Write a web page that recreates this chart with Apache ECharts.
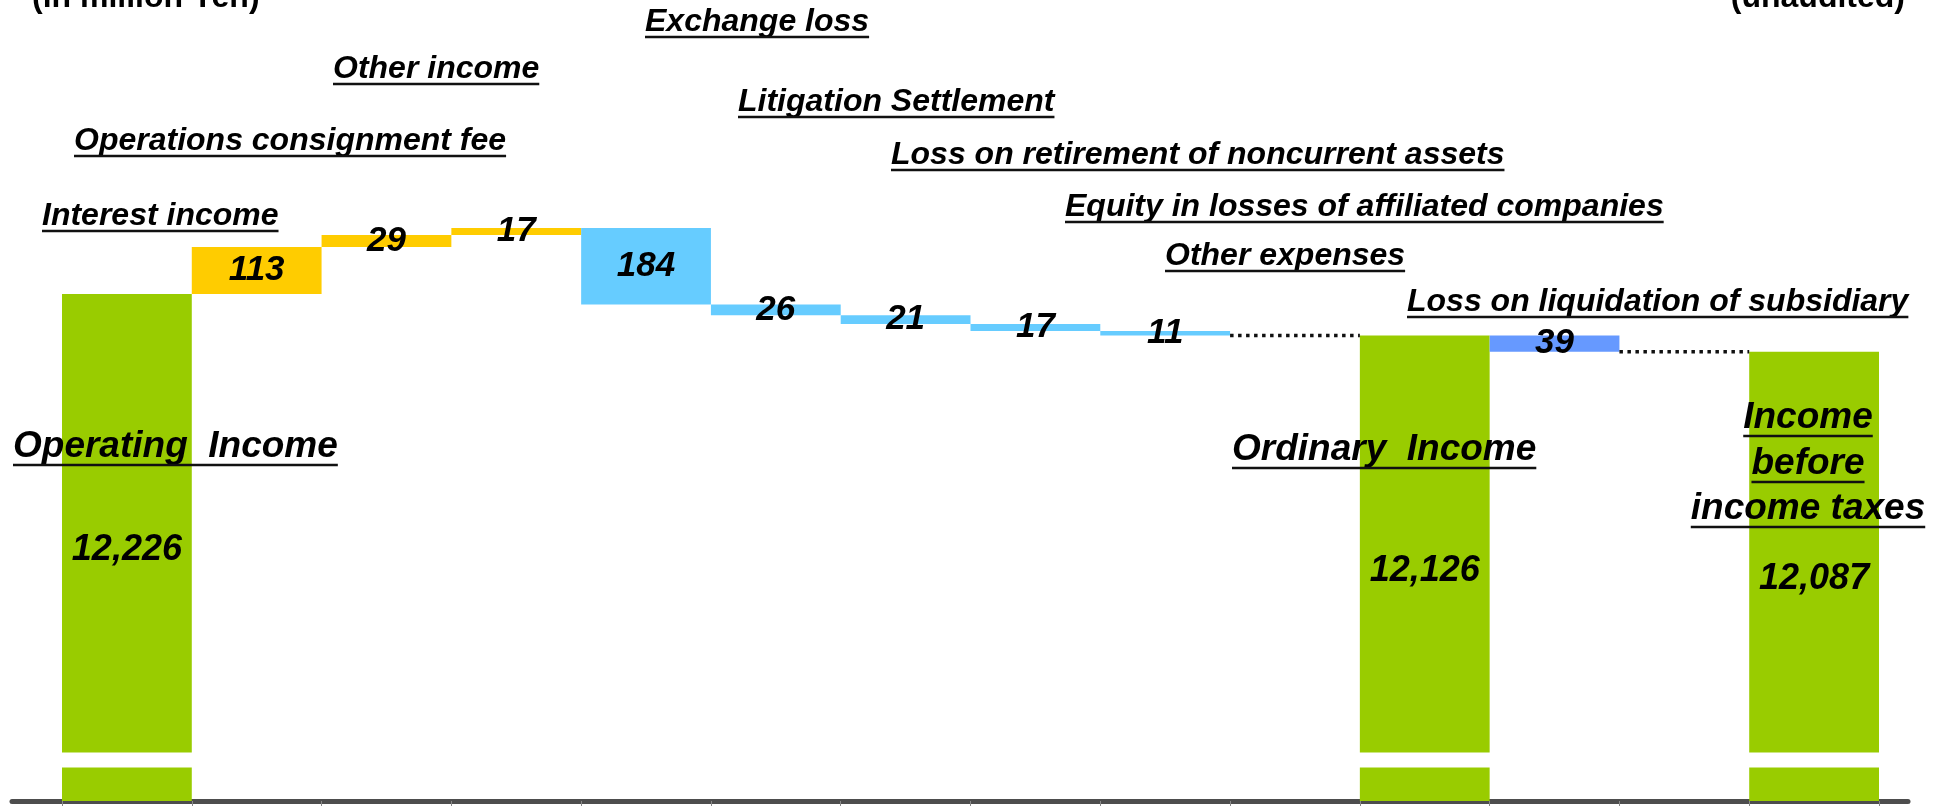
<!DOCTYPE html>
<html>
<head>
<meta charset="utf-8">
<title>Operating income to income before income taxes</title>
<script src="https://cdn.jsdelivr.net/npm/echarts@6.0.0/dist/echarts.min.js"></script>
<style>
  html, body { margin: 0; padding: 0; background: #fff; }
  #chart { width: 1946px; height: 806px; }
</style>
</head>
<body>
<div id="chart"></div>
<script>
  // one slot per step; '' marks an empty slot that only carries the dotted connector
  var categories = [
    'Operating  Income',
    'Interest income',
    'Operations consignment fee',
    'Other income',
    'Exchange loss',
    'Litigation Settlement',
    'Loss on retirement of noncurrent assets',
    'Equity in losses of affiliated companies',
    'Other expenses',
    '',
    'Ordinary  Income',
    'Loss on liquidation of subsidiary',
    '',
    'Income before income taxes'
  ];
  // totals are full values, the rest are signed changes (million yen)
  var values = [12226, 113, 29, 17, -184, -26, -21, -17, -11, null, 12126, -39, null, 12087];
  var kinds = ['total', 'income', 'income', 'income', 'expense', 'expense', 'expense', 'expense', 'expense',
               'gap', 'total', 'loss', 'gap', 'total'];

  var kindColors = { total: '#99CC00', income: '#FFCC00', expense: '#66CCFF', loss: '#6699FF' };
  var FONT = '"Liberation Sans", Arial, sans-serif';
  // where the value sits inside the tall total bars (px below bar top)
  var totalLabelDy = { 0: 256, 10: 235, 13: 227 };

  var baseData = [];
  var barData = [];
  var connectors = [];
  var running = 0;
  values.forEach(function (v, i) {
    var kind = kinds[i];
    if (kind === 'gap') {
      baseData.push('-');
      barData.push('-');
      connectors.push([[i, running], [i + 1, running]]);
      return;
    }
    if (kind === 'total') {
      running = v;
      baseData.push(0);
      barData.push({
        value: v,
        itemStyle: { color: kindColors.total },
        label: { position: ['50%', totalLabelDy[i]], align: 'center', verticalAlign: 'middle', fontSize: 36 }
      });
    } else {
      var low = v > 0 ? running : running + v;
      running += v;
      baseData.push(low);
      barData.push({ value: Math.abs(v), itemStyle: { color: kindColors[kind] } });
    }
  });

  // text annotations: left x (or centre cx) and baseline y in px
  var notes = [
    { text: categories[1], x: 42, base: 227, size: 32 },
    { text: categories[2], x: 74, base: 152, size: 32 },
    { text: categories[3], x: 333, base: 80, size: 32 },
    { text: categories[4], x: 645, base: 33, size: 32 },
    { text: categories[5], x: 738, base: 113, size: 32 },
    { text: categories[6], x: 891, base: 166, size: 32 },
    { text: categories[7], x: 1065, base: 218, size: 32 },
    { text: categories[8], x: 1165, base: 267, size: 32 },
    { text: categories[11], x: 1407, base: 313, size: 32 },
    { text: categories[0], x: 13, base: 460, size: 37 },
    { text: categories[10], x: 1232, base: 463, size: 37 },
    { text: 'Income', cx: 1808, base: 431, size: 37 },
    { text: 'before', cx: 1808, base: 477, size: 37 },
    { text: 'income taxes', cx: 1808, base: 522, size: 37 }
  ];

  var measureCtx = document.createElement('canvas').getContext('2d');
  var graphics = [];
  notes.forEach(function (n) {
    var font = 'italic bold ' + n.size + 'px ' + FONT;
    measureCtx.font = font;
    var w = measureCtx.measureText(n.text).width;
    var left = n.cx != null ? n.cx - w / 2 : n.x;
    graphics.push({
      type: 'text', x: left, y: n.base - 0.347 * n.size, z: 110,
      style: {
        text: n.text, font: font, fill: '#000', verticalAlign: 'middle', align: 'left',
        textShadowColor: 'rgba(0,0,0,0.25)', textShadowOffsetX: 1, textShadowOffsetY: 1
      }
    });
    var uy = n.base + (n.size > 34 ? 5 : 4);
    graphics.push({
      type: 'line', z: 110,
      shape: { x1: left, y1: uy, x2: left + w, y2: uy },
      style: { stroke: '#111', lineWidth: 2.5 }
    });
  });
  graphics.push({
    type: 'text', x: 32, y: 9 - 11, z: 110,
    style: { text: '(in million Yen)', font: 'bold 32px ' + FONT, fill: '#000', verticalAlign: 'middle' }
  });
  graphics.push({
    type: 'text', x: 1905, y: 9 - 11, z: 110,
    style: { text: '(unaudited)', font: 'bold 32px ' + FONT, fill: '#000', verticalAlign: 'middle', align: 'right' }
  });

  var series = [
    {
      name: 'base', type: 'bar', stack: 'wf', data: baseData,
      itemStyle: { color: 'transparent' }, silent: true, barCategoryGap: '0%'
    },
    {
      name: 'step', type: 'bar', stack: 'wf', data: barData, barCategoryGap: '0%',
      label: {
        show: true, position: 'inside', color: '#000',
        fontFamily: FONT, fontStyle: 'italic', fontWeight: 'bold', fontSize: 35,
        formatter: function (p) {
          var v = values[p.dataIndex];
          return kinds[p.dataIndex] === 'total' ? v.toLocaleString('en-US') : String(Math.abs(v));
        }
      }
    }
  ];
  connectors.forEach(function (seg) {
    series.push({
      type: 'line', xAxisIndex: 1, yAxisIndex: 0, data: seg, showSymbol: false, silent: true,
      lineStyle: { color: '#111', width: 3.5, type: [3.5, 4.5] }, z: 5
    });
  });

  var chart = echarts.init(document.getElementById('chart'), null, { renderer: 'canvas' });
  chart.setOption({
    animation: false,
    grid: [
      { left: 62, right: 67, top: 97, bottom: 5 },
      { left: 12, right: 38, top: 800, bottom: 5 }
    ],
    xAxis: [
      {
        type: 'category', data: categories, gridIndex: 0,
        axisLine: { show: false },
        axisTick: { show: true, interval: 0, length: 5, lineStyle: { color: '#888' } },
        axisLabel: { show: false }
      },
      { type: 'value', gridIndex: 0, min: 0, max: categories.length, show: false },
      {
        type: 'value', gridIndex: 1, min: 0, max: 1,
        axisLine: { show: true, onZero: false, lineStyle: { color: '#4d4d4d', width: 5 } },
        axisTick: { show: false }, axisLabel: { show: false }, splitLine: { show: false }
      }
    ],
    yAxis: [
      {
        type: 'value', gridIndex: 0, min: 0, max: 12700,
        axisLine: { show: false }, axisTick: { show: false }, axisLabel: { show: false },
        splitLine: { show: false },
        breaks: [{ start: 80, end: 11125, gap: '2.27%' }],
        breakArea: {
          show: true, expandOnClick: false, zigzagAmplitude: 0,
          itemStyle: { color: '#fff', borderWidth: 0, opacity: 1 }
        }
      },
      { type: 'value', gridIndex: 1, show: false }
    ],
    graphic: graphics,
    series: series
  });
</script>
</body>
</html>
